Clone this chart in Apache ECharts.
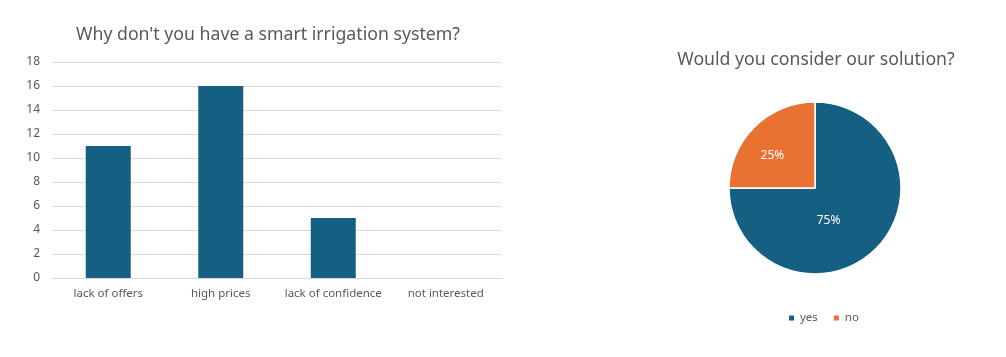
<!DOCTYPE html>
<html><head><meta charset="utf-8">
<script src="https://cdn.jsdelivr.net/npm/echarts@6/dist/echarts.min.js"></script>
<style>html,body{margin:0;padding:0;background:#fff}#c{width:1006px;height:357px}</style>
</head><body><div id="c"></div>
<script>
const barTitle = "Why don't you have a smart irrigation system?";
const barCategories = ["lack of offers", "high prices", "lack of confidence", "not interested"];
const barValues = [11, 16, 5, 0];
const pieTitle = "Would you consider our solution?";
const pieNames = ["yes", "no"];
const pieValues = [75, 25];

const FONT = "Noto Sans";
const TXT = "#595959";
const chart = echarts.init(document.getElementById('c'));
const pieLabelOffsets = [[-19, 0], [-10, 0]];
chart.setOption({
  animation: false,
  textStyle: { fontFamily: FONT },
  title: [
    { text: barTitle, left: 263, top: 21, textAlign: 'center',
      textStyle: { fontFamily: FONT, fontSize: 17.7, fontWeight: 'normal', color: TXT } },
    { text: pieTitle, left: 811, top: 46, textAlign: 'center',
      textStyle: { fontFamily: FONT, fontSize: 17.7, fontWeight: 'normal', color: TXT } }
  ],
  grid: { left: 52, top: 62, width: 450, height: 216, containLabel: false },
  xAxis: {
    type: 'category', data: barCategories,
    axisLine: { lineStyle: { color: '#d9d9d9' } }, axisTick: { show: false },
    axisLabel: { color: TXT, fontSize: 11.5, margin: 10, interval: 0, fontFamily: FONT }
  },
  yAxis: {
    type: 'value', min: 0, max: 18, interval: 2,
    axisLine: { show: false }, axisTick: { show: false },
    splitLine: { lineStyle: { color: '#d9d9d9' } },
    axisLabel: { color: TXT, fontSize: 12, margin: 12, fontFamily: FONT }
  },
  legend: {
    data: pieNames, left: 815 - 33, top: 307, itemWidth: 7, itemHeight: 7, itemGap: 14,
    icon: 'rect', textStyle: { color: TXT, fontSize: 11.5, fontFamily: FONT }
  },
  color: ['#156082', '#E97132'],
  series: [
    { type: 'bar', data: barValues, barWidth: '40%', itemStyle: { color: '#156082' } },
    { type: 'pie', center: [815, 188], radius: 86, startAngle: 90, clockwise: true,
      itemStyle: { borderColor: '#fff', borderWidth: 1.5 },
      label: { position: 'inside', formatter: '{d}%', color: '#fff', fontSize: 12, fontFamily: FONT },
      labelLine: { show: false },
      data: pieNames.map((n, i) => ({ name: n, value: pieValues[i],
        itemStyle: { color: ['#156082', '#E97132'][i] },
        label: { offset: pieLabelOffsets[i] } }))
    }
  ]
});
</script></body></html>
